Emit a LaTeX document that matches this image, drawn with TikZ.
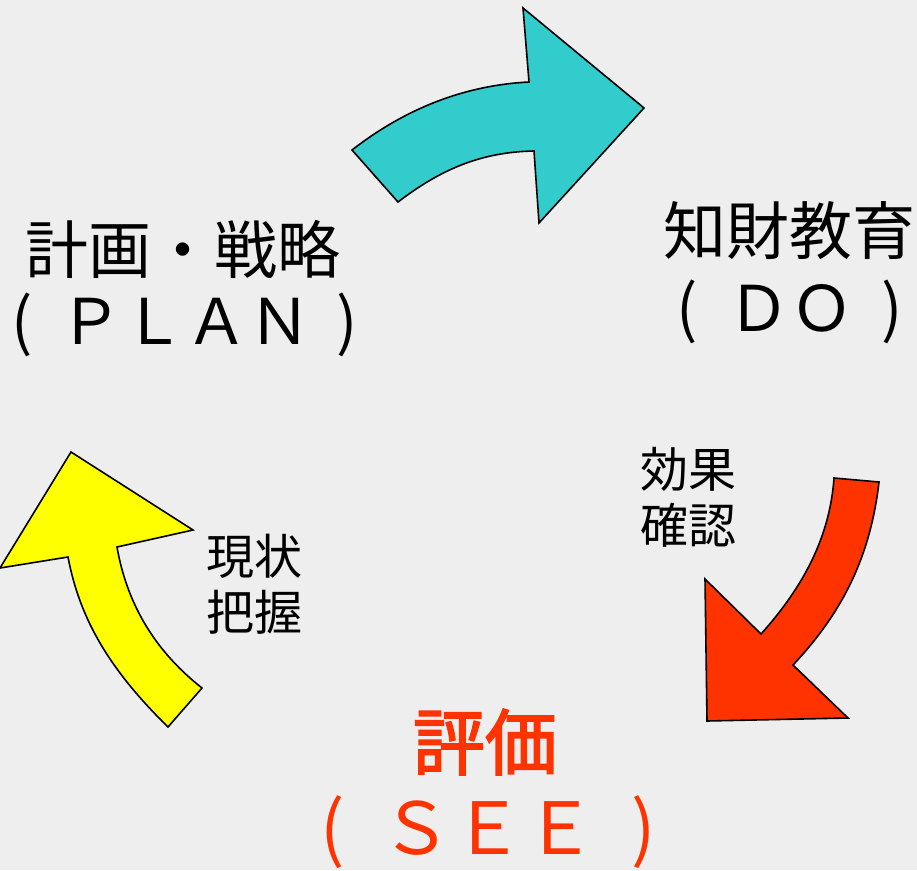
\documentclass[tikz,border=0pt]{standalone}
\usepackage{fontspec}
\newfontfamily\jp{Noto Sans CJK JP}
\newfontfamily\jpm{Noto Sans CJK JP}[FakeBold=2.5]
\definecolor{bgc}{RGB}{238,238,238}
\definecolor{cyanA}{RGB}{51,204,204}
\definecolor{yellowA}{RGB}{255,255,0}
\definecolor{redA}{RGB}{255,51,0}
\begin{document}
\begin{tikzpicture}[x=1pt,y=-1pt,
  arrowshape/.style={draw=black,line width=1.6pt,line join=miter},
  big/.style={font=\jp\fontsize{63}{70}\selectfont,inner sep=0pt},
  small/.style={font=\jp\fontsize{48}{56}\selectfont,inner sep=0pt,align=left},
  see/.style={font=\jp\fontsize{72}{80}\selectfont,text=redA,inner sep=0pt}]
\fill[bgc] (0,0) rectangle (917,870);
\useasboundingbox (0,0) rectangle (917,870);
% cyan arrow (PLAN -> DO)
\path[arrowshape,fill=cyanA] (352,150) .. controls (410,105) and (470,85) .. (529,82)
  -- (523,8) -- (644,108) -- (539,223) -- (534,151)
  .. controls (480,152) and (440,170) .. (398,202) -- cycle;
% red arrow (DO -> SEE)
\path[arrowshape,fill=redA] (834,478) -- (879,482)
  .. controls (870,560) and (840,615) .. (793,665)
  -- (848,718) -- (707,721) -- (705,579) -- (761,634)
  .. controls (805,585) and (830,535) .. (834,478) -- cycle;
% yellow arrow (SEE -> PLAN)
\path[arrowshape,fill=yellowA] (168,727) .. controls (110,670) and (80,620) .. (68,557)
  -- (0,568) -- (71,452) -- (193,530) -- (117,547)
  .. controls (128,610) and (160,655) .. (202,688) -- cycle;
% texts
\node[big] (plan) at (183,249) {計画・戦略};
\node[big] (planen) at (185,325) {(\kern0.41em ＰＬＡＮ\kern0.41em )};
\node[big] (do) at (789,231) {知財教育};
\node[big] (doen) at (790,312) {(\kern0.46em ＤＯ\kern0.46em )};
\node[small] (kouka) at (688,497) {効果\\確認};
\node[small] (genjo) at (254,584) {現状\\把握};
\node[see,font=\jpm\fontsize{72}{80}\selectfont] (see) at (485,742) {評価};
\node[see] (seeen) at (488,832) {(\kern0.49em ＳＥＥ\kern0.49em )};
\end{tikzpicture}
\end{document}
